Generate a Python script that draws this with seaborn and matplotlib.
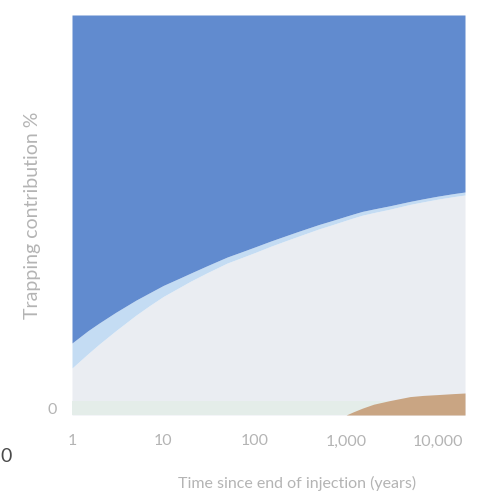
import numpy as np
import matplotlib
matplotlib.use("Agg")
import matplotlib.pyplot as plt
import matplotlib.transforms as mtransforms
import seaborn as sns

# Years since end of injection
years = [1, 1.5, 2, 3, 5, 7, 10, 15, 20, 30, 50, 70, 100, 150, 200, 300,
         500, 700, 1000, 1200, 1500, 2000, 3000, 5000, 7000, 10000, 15000, 20000]

# Share of stored CO2 held by each trapping mechanism (%)
mineral = [0, 0, 0, 0, 0, 0, 0, 0, 0, 0, 0, 0, 0, 0, 0, 0,
           0, 0, 0, 0.8, 1.7, 2.7, 3.6, 4.6, 4.9, 5.1, 5.35, 5.5]
solubility = [11.75, 15.35, 17.8, 21.05, 24.95, 27.3, 29.65, 31.9, 33.5, 35.55,
              38.0, 39.25, 40.6, 42.2, 43.25, 44.7, 46.5, 47.55, 48.7, 48.48,
              48.25, 47.9, 47.85, 48.05, 48.4, 48.85, 49.25, 49.5]
residual = [6.25, 5.75, 5.25, 4.6, 3.75, 3.2, 2.75, 2.3, 2.0, 1.75, 1.5, 1.45,
            1.4, 1.3, 1.25, 1.2, 1.1, 1.05, 1.0, 0.97, 0.95, 0.9, 0.85, 0.75,
            0.75, 0.75, 0.75, 0.75]
structural = [82.0, 78.9, 76.95, 74.35, 71.3, 69.5, 67.6, 65.8, 64.5, 62.7,
              60.5, 59.3, 58.0, 56.5, 55.5, 54.1, 52.4, 51.4, 50.3, 49.75, 49.1,
              48.5, 47.7, 46.6, 45.95, 45.3, 44.65, 44.25]
# thin pale band along the base of the dissolved layer
base_band = [3.5] * len(years)

xtick_vals = [1, 10, 100, 1000, 10000]
xtick_labels = ["1", "10", "100", "1,000", "10,000"]

sns.set_theme(style="white")
plt.rcParams["font.family"] = ["Lato", "DejaVu Sans"]

colors = {
    "structural": "#618bcf",
    "residual": "#c4dcf3",
    "solubility": "#eaedf2",
    "band": "#e4ede9",
    "mineral": "#c9a583",
}
text_grey = "#b4b4b4"

fig = plt.figure(figsize=(4.95, 4.98), dpi=100)
ax = fig.add_axes([72 / 495, 1 - 415 / 498, 393 / 495, 400 / 498])

x = np.array(years, dtype=float)
low = np.array(mineral, dtype=float)
sol_top = low + np.array(solubility)
res_top = sol_top + np.array(residual)
top = res_top + np.array(structural)

ax.fill_between(x, 0, sol_top, color=colors["solubility"], lw=0)
ax.fill_between(x, 0, base_band, color=colors["band"], lw=0)
ax.fill_between(x, 0, low, color=colors["mineral"], lw=0)
ax.fill_between(x, sol_top, res_top, color=colors["residual"], lw=0)
ax.fill_between(x, res_top, top, color=colors["structural"], lw=0)

ax.set_xscale("log")
ax.set_xlim(1, 20000)
ax.set_ylim(0, 100)
ax.set_xticks(xtick_vals)
ax.set_xticklabels(xtick_labels)
ax.minorticks_off()
ax.set_yticks([0])
ax.set_yticklabels(["0"])
ax.tick_params(axis="both", length=0, colors=text_grey, labelsize=11.5)
ax.tick_params(axis="x", pad=14)
ax.tick_params(axis="y", pad=11)
lift = mtransforms.ScaledTranslation(0, 7 / 100, fig.dpi_scale_trans)
for lab in ax.get_yticklabels():
    lab.set_transform(lab.get_transform() + lift)

ax.set_xlabel("Time since end of injection (years)", color=text_grey, fontsize=11.5)
ax.xaxis.set_label_coords(0.573, -0.153)
ax.set_ylabel("Trapping contribution %", color=text_grey, fontsize=14)
ax.yaxis.set_label_coords(-0.078, 0.5)

sns.despine(ax=ax, left=True, bottom=True)
ax.grid(False)

fig.text(0.0, 0.084, "0", color="#4a4a4a", fontsize=14, va="center", ha="left")

fig.savefig("out.png", dpi=100, facecolor="white")
